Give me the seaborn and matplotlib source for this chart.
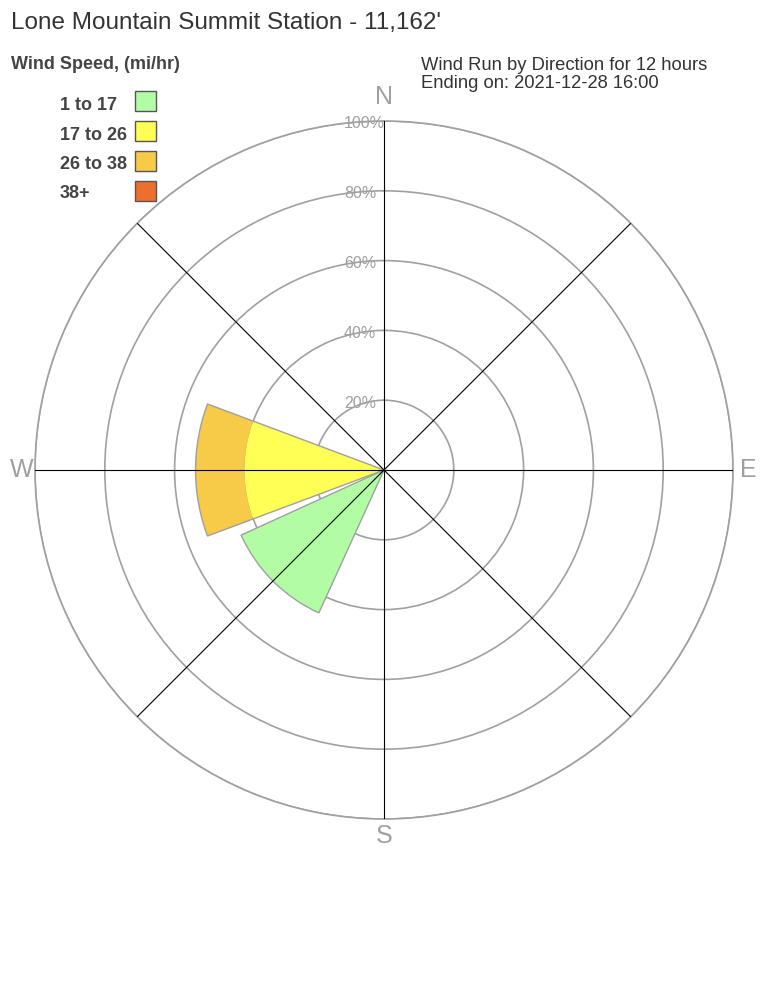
import numpy as np
import pandas as pd
import matplotlib.pyplot as plt
from matplotlib.patches import Rectangle
import seaborn as sns

# wind rose data (percent of wind run per direction, by speed bin)
directions = ['N', 'NE', 'E', 'SE', 'S', 'SW', 'W', 'NW']
dir_angles = [0, 45, 90, 135, 180, 225, 270, 315]
speed_bins = ['1 to 17', '17 to 26', '26 to 38', '38+']
bin_colors = ['#b2fca4', '#ffff55', '#f7cb47', '#ee6e2e']
pct_1_17 = [0, 0, 0, 0, 0, 45, 0, 0]
pct_17_26 = [0, 0, 0, 0, 0, 0, 40, 0]
pct_26_38 = [0, 0, 0, 0, 0, 0, 14, 0]
pct_38_up = [0, 0, 0, 0, 0, 0, 0, 0]
ring_ticks = [20, 40, 60, 80, 100]
ring_labels = ['20%', '40%', '60%', '80%', '100%']
compass = ['N', 'E', 'S', 'W']

df = pd.DataFrame({
    '1 to 17': pct_1_17,
    '17 to 26': pct_17_26,
    '26 to 38': pct_26_38,
    '38+': pct_38_up,
}, index=directions)

sns.set_theme(style='white')
plt.rcParams['font.family'] = ['Liberation Sans', 'DejaVu Sans']

W, H = 768, 1008
fig = plt.figure(figsize=(W / 100, H / 100), dpi=100)
fig.patch.set_facecolor('white')

# polar axes: centre (384, 470), radius 349 px
ax = fig.add_axes([35 / W, 189 / H, 698 / W, 698 / H], projection='polar')
ax.set_theta_zero_location('N')
ax.set_theta_direction(-1)
ax.set_ylim(0, 100)
ax.set_facecolor('white')

theta = np.deg2rad(dir_angles)
width = np.deg2rad(41)
bottom = np.zeros(len(directions))
for name, color in zip(speed_bins, bin_colors):
    vals = df[name].values.astype(float)
    m = vals > 0
    if m.any():
        ax.bar(theta[m], vals[m], width=width, bottom=bottom[m],
               color=color, edgecolor='none', zorder=2)
    bottom += vals

m = bottom > 0
ax.bar(theta[m], bottom[m], width=width, facecolor='none',
       edgecolor='#a0a0a0', linewidth=1, zorder=2.5)

# spokes drawn on top of the wedges
for a in theta:
    ax.plot([a, a], [0, 100], color='black', lw=0.8, zorder=3)

ax.set_xticks(theta)
ax.set_xticklabels([])
ax.xaxis.grid(False)
ax.set_yticks(ring_ticks)
ax.set_yticklabels([])
ax.yaxis.grid(True, color='#a0a0a0', lw=1.2)
ax.set_axisbelow(True)
ax.spines['polar'].set_color('#a0a0a0')
ax.spines['polar'].set_linewidth(1.2)

for r, lab in zip(ring_ticks, ring_labels):
    ax.annotate(lab, xy=(0, r), xytext=(-40, -3), textcoords='offset pixels',
                ha='left', va='center', color='#a0a0a0', fontsize=11.5,
                annotation_clip=False, zorder=2.8)

label_r = {'N': 106.9, 'E': 104.3, 'S': 104.9, 'W': 103.9}
for lab in compass:
    a = np.deg2rad(dir_angles[directions.index(lab)])
    ax.text(a, label_r[lab], lab, ha='center', va='center', fontsize=18,
            color='#a0a0a0', clip_on=False)

# header texts
def fy(y):
    return 1 - y / H

fig.text(11 / W, fy(29), "Lone Mountain Summit Station - 11,162'",
         fontsize=17.5, color='#333333', va='baseline')
fig.text(11 / W, fy(69), 'Wind Speed, (mi/hr)', fontsize=13,
         fontweight='bold', color='#444444', va='baseline')
fig.text(421 / W, fy(70), 'Wind Run by Direction for 12 hours',
         fontsize=13.2, color='#333333', va='baseline')
fig.text(421 / W, fy(88), 'Ending on: 2021-12-28 16:00',
         fontsize=13.2, color='#333333', va='baseline')

# legend
for i, (name, color) in enumerate(zip(speed_bins, bin_colors)):
    fig.text(60 / W, fy(110 + 29.5 * i), name, fontsize=13,
             fontweight='bold', color='#444444', va='baseline')
    fig.add_artist(Rectangle((135 / W, fy(111 + 30 * i)), 21 / W, 20 / H,
                             transform=fig.transFigure, facecolor=color,
                             edgecolor='#555555', lw=1))

fig.savefig('out.png', dpi=100)
